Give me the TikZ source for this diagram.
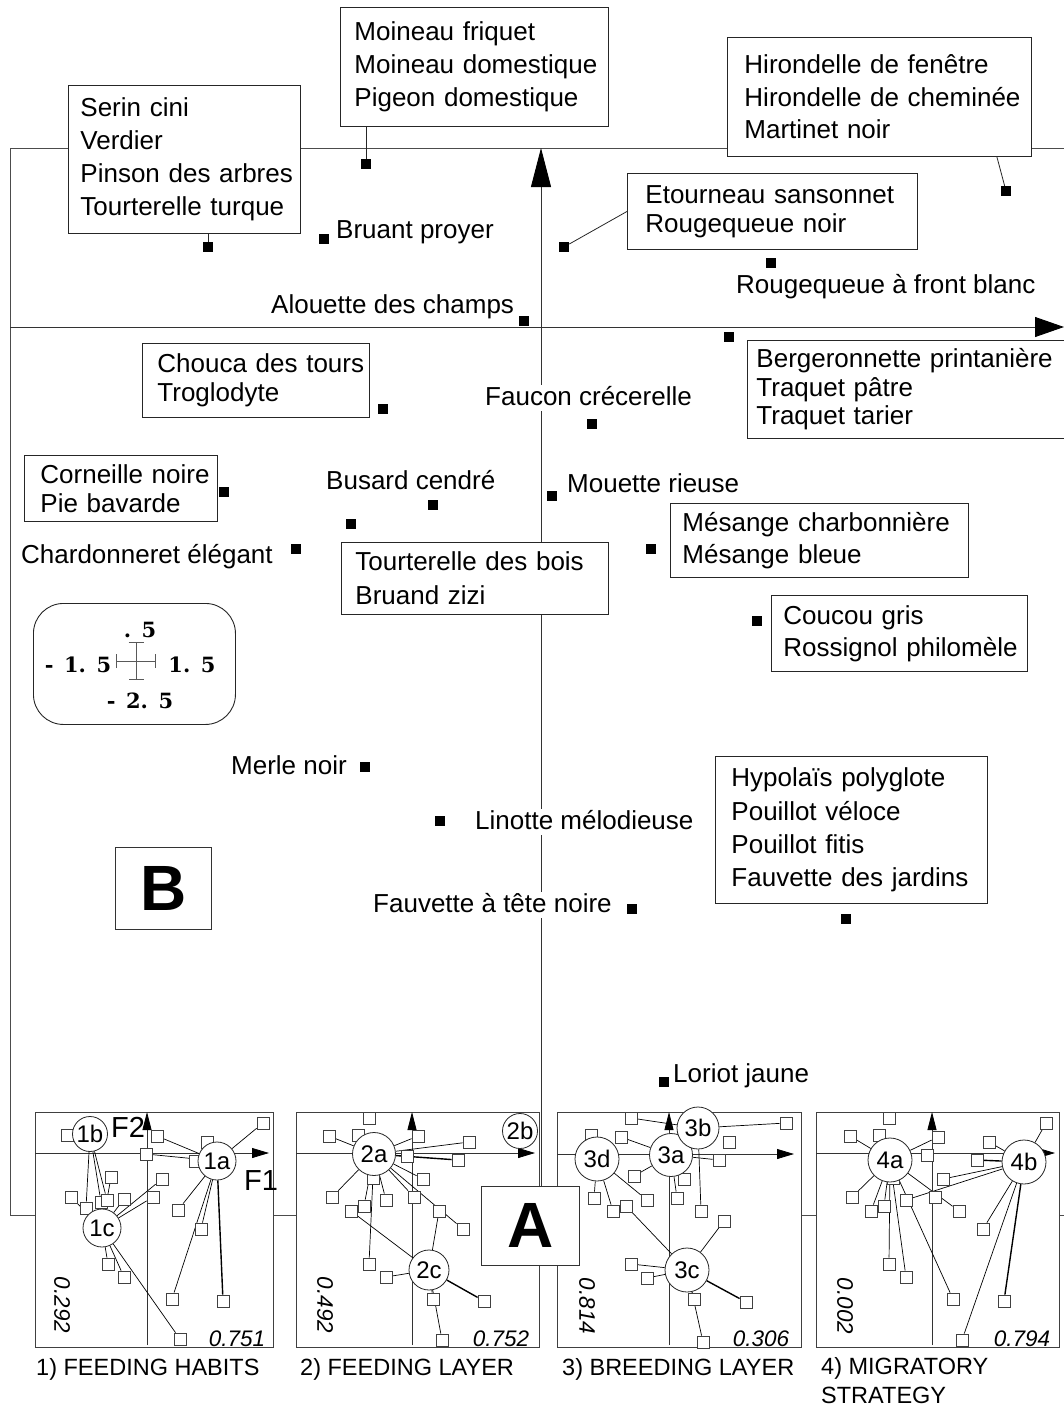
\documentclass[tikz,border=0pt]{standalone}
\usepackage{fontspec}
\setmainfont{Liberation Sans}
\newfontfamily\legfont{DejaVu Serif}
\usetikzlibrary{arrows.meta,calc}
\pgfdeclarelayer{links}
\pgfdeclarelayer{marks}
\pgfsetlayers{main,links,marks}
\begin{document}
\begin{tikzpicture}[x=1pt,y=-1pt,
  frameline/.style={draw=black!70, line width=0.9pt},
  axisline/.style={draw=black!80, line width=0.9pt},
  spbox/.style={draw=black!85, fill=white, line width=0.9pt, anchor=north west, align=left, inner ysep=0pt},
  lbl/.style={fill=white, inner sep=1pt, anchor=west, font=\fontsize{26pt}{30pt}\selectfont, text height=19pt, text depth=5pt},
  pt/.style={rectangle, fill=black, minimum size=10pt, inner sep=0pt},
  lead/.style={draw=black!85, line width=0.8pt},
  bigletter/.style={rectangle, draw=black!80, fill=white, line width=0.9pt, anchor=north west, inner sep=0pt, font=\fontsize{64pt}{64pt}\bfseries},
  legtxt/.style={inner sep=0pt, font=\legfont\fontsize{21pt}{22pt}\bfseries},
  panel/.style={rectangle, draw=black!75, fill=white, line width=1.1pt, anchor=north west, inner sep=0pt, minimum height=235pt},
  paxis/.style={draw=black!80, line width=0.8pt},
  ps/.style={rectangle, draw=black!75, fill=white, minimum size=12pt, inner sep=0pt, line width=0.8pt},
  pc/.style={circle, draw=black!85, fill=white, minimum size=#1, inner sep=0pt, line width=0.8pt, font=\fontsize{24pt}{24pt}\selectfont},
  link/.style={draw=black, line width=0.7pt},
  heavy/.style={draw=black, line width=1.4pt},
  share/.style={rotate=-90, inner sep=0pt, font=\fontsize{22.5pt}{24pt}\itshape},
  inertia/.style={inner sep=0pt, font=\fontsize{22.5pt}{24pt}\itshape},
  ttl/.style={inner sep=0pt, anchor=west, font=\fontsize{23.5pt}{29pt}\selectfont},
  axlbl/.style={inner sep=0pt, font=\fontsize{29pt}{29pt}\selectfont}
]
\useasboundingbox (0,0) rectangle (1064,1409);

% ---------- outer frame and main factorial axes ----------
\coordinate (fr-bl) at (10,1215);
\coordinate (fr-tl) at (10,148);
\coordinate (fr-tr) at (1064,148);
\coordinate (fr-br) at (1064,1215);
\draw[frameline] (fr-br) -- (fr-bl) -- (fr-tl) -- (fr-tr);
\coordinate (ax-h0) at (10,327);
\coordinate (ax-h1) at (1064,327);
\draw[axisline, -{Triangle[length=29pt,width=20pt,color=black]}] (ax-h0) -- (ax-h1);
\coordinate (ax-v0) at (541,1215);
\coordinate (ax-v1) at (541,148);
\draw[axisline, -{Triangle[length=39pt,width=20pt,color=black]}] (ax-v0) -- (ax-v1);

% ---------- species positions ----------
\foreach \n/\x/\y in {serin/208/247, moineau/366/164, hiron/1006/191, etour/564/247,
  rougeq/771/263, bruant/324/239, alouette/524/321, berger/729/337, chouca/383/409,
  faucon/592/424, corneille/224/492, busard/433/505, tourt/351/524, mouette/552/496,
  chardo/296/549, mesange/651/549, coucou/757/621, merle/365/767, linotte/440/821,
  hypo/846/919, fauv/632/909, loriot/664/1082}
  \node[pt] (q-\n) at (\x,\y) {};

% ---------- grouped species boxes ----------
\node[spbox, minimum width=232pt, minimum height=148pt, inner xsep=12pt, text width=208pt,
  font=\fontsize{26pt}{33pt}\selectfont] (serin) at (68,85)
  {\mbox{Serin cini}\\\mbox{Verdier}\\\mbox{Pinson des arbres}\\\mbox{Tourterelle turque}};
\node[spbox, minimum width=268pt, minimum height=119pt, inner xsep=14pt, text width=240pt,
  font=\fontsize{26pt}{33pt}\selectfont] (moineau) at (340,7)
  {\mbox{Moineau friquet}\\\mbox{Moineau domestique}\\\mbox{Pigeon domestique}};
\node[spbox, minimum width=304pt, minimum height=119pt, inner xsep=17pt, text width=270pt,
  font=\fontsize{26pt}{32.5pt}\selectfont] (hiron) at (727,37)
  {\mbox{Hirondelle de fenêtre}\\\mbox{Hirondelle de cheminée}\\\mbox{Martinet noir}};
\node[spbox, minimum width=290pt, minimum height=76pt, inner xsep=18pt, text width=254pt,
  font=\fontsize{26pt}{29pt}\selectfont] (etour) at (627,173)
  {\mbox{Etourneau sansonnet}\\\mbox{Rougequeue noir}};
\node[spbox, minimum width=317pt, minimum height=98pt, inner xsep=9pt, text width=299pt,
  font=\fontsize{26pt}{28.5pt}\selectfont] (berger) at (747,340)
  {\mbox{Bergeronnette printanière}\\\mbox{Traquet pâtre}\\\mbox{Traquet tarier}};
\node[spbox, minimum width=227pt, minimum height=74pt, inner xsep=15pt, text width=197pt,
  font=\fontsize{26pt}{29pt}\selectfont] (chouca) at (142,343)
  {\mbox{Chouca des tours}\\\mbox{Troglodyte}};
\node[spbox, minimum width=193pt, minimum height=66pt, inner xsep=16pt, text width=161pt,
  font=\fontsize{26pt}{29pt}\selectfont] (corneille) at (24,455)
  {\mbox{Corneille noire}\\\mbox{Pie bavarde}};
\node[spbox, minimum width=267pt, minimum height=72pt, inner xsep=14pt, text width=239pt,
  font=\fontsize{26pt}{34pt}\selectfont] (tourt) at (341,542)
  {\mbox{Tourterelle des bois}\\\mbox{Bruand zizi}};
\node[spbox, minimum width=298pt, minimum height=74pt, inner xsep=12pt, text width=274pt,
  font=\fontsize{26pt}{32pt}\selectfont] (mesange) at (670,503)
  {\mbox{Mésange charbonnière}\\\mbox{Mésange bleue}};
\node[spbox, minimum width=256pt, minimum height=76pt, inner xsep=12pt, text width=232pt,
  font=\fontsize{26pt}{32pt}\selectfont] (coucou) at (771,595)
  {\mbox{Coucou gris}\\\mbox{Rossignol philomèle}};
\node[spbox, minimum width=272pt, minimum height=147pt, inner xsep=16pt, text width=240pt,
  font=\fontsize{26pt}{33.3pt}\selectfont] (hypo) at (715,756)
  {\mbox{Hypolaïs polyglote}\\\mbox{Pouillot véloce}\\\mbox{Pouillot fitis}\\\mbox{Fauvette des jardins}};

% leaders from boxes to their positions
\draw[lead] (q-serin) -- (q-serin |- serin.south);
\draw[lead] (q-moineau) -- (q-moineau |- moineau.south);
\draw[lead] (q-hiron) -- ($(hiron.south east)+(-35,0)$);
\draw[lead] (q-etour) -- (etour.west);

% ---------- single species labels ----------
\node[lbl] (l-rougeq) at (735,286) {Rougequeue à front blanc};
\node[lbl] (l-bruant) at (335,231) {Bruant proyer};
\node[lbl] (l-alouette) at (270,306) {Alouette des champs};
\node[lbl] (l-faucon) at (484,398) {Faucon crécerelle};
\node[lbl] (l-busard) at (325,482) {Busard cendré};
\node[lbl] (l-mouette) at (566,485) {Mouette rieuse};
\node[lbl] (l-chardo) at (20,556) {Chardonneret élégant};
\node[lbl] (l-merle) at (230,767) {Merle noir};
\node[lbl] (l-linotte) at (474,822) {Linotte mélodieuse};
\node[lbl] (l-fauv) at (372,905) {Fauvette à tête noire};
\node[lbl] (l-loriot) at (672,1075) {Loriot jaune};

% ---------- scale legend ----------
\node[draw=black!85, line width=0.9pt, rounded corners=30pt, minimum width=202pt,
  minimum height=121pt, anchor=north west, inner sep=0pt] (legend) at (33,603) {};
\node[legtxt] (lg-top) at (140,630) {.\enspace5};
\node[legtxt] (lg-left) at (78,665) {-\enspace1.\enspace5};
\node[legtxt] (lg-right) at (192,665) {1.\enspace5};
\node[legtxt] (lg-bot) at (140,701) {-\enspace2.\enspace5};
\coordinate (lg-w) at (116,661);
\coordinate (lg-e) at (156,661);
\coordinate (lg-n) at (136,642);
\coordinate (lg-s) at (136,680);
\draw[black!65, line width=1pt, {Bar[width=14pt]}-{Bar[width=14pt]}] (lg-w) -- (lg-e);
\draw[black!65, line width=1pt, {Bar[width=15pt]}-{Bar[width=15pt]}] (lg-n) -- (lg-s);

% ---------- B and A tags ----------
\node[bigletter, minimum width=96pt, minimum height=82pt] (tagB) at (115,847) {B};

% ---------- small panels ----------
\node[panel, minimum width=238pt] (p1) at (35,1112) {};
\node[panel, minimum width=243pt] (p2) at (296,1112) {};
\node[panel, minimum width=244pt] (p3) at (557,1112) {};
\node[panel, minimum width=243pt] (p4) at (816,1112) {};

\foreach \k/\xl/\xa/\xt/\ya in {1/35/147/269/1153, 2/296/412/535/1153, 3/557/669/794/1154, 4/816/932/1055/1153} {
  \coordinate (p\k-h0) at (\xl,\ya);
  \coordinate (p\k-h1) at (\xt,\ya);
  \coordinate (p\k-v0) at (\xa,1345);
  \coordinate (p\k-v1) at (\xa,1112);
  \draw[paxis, -{Triangle[length=17pt,width=10pt,color=black]}] (p\k-h0) -- (p\k-h1);
  \draw[paxis, -{Triangle[length=18pt,width=9pt,color=black]}] (p\k-v0) -- (p\k-v1);
}

\node[bigletter, minimum width=98pt, minimum height=79pt] (tagA) at (481,1186) {A};

\node[axlbl] (f2) at (128,1127) {F2};
\node[axlbl] (f1) at (261,1181) {F1};

\node[share] (s1) at (62,1305) {0.292};
\node[share] (s2) at (325,1305) {0.492};
\node[share] (s3) at (587,1306) {0.814};
\node[share] (s4) at (845,1306) {0.002};
\node[inertia] (i1) at (237,1339) {0.751};
\node[inertia] (i2) at (501,1339) {0.752};
\node[inertia] (i3) at (761,1339) {0.306};
\node[inertia] (i4) at (1022,1339) {0.794};

\node[ttl] (t1) at (36,1369) {1) FEEDING HABITS};
\node[ttl] (t2) at (300,1369) {2) FEEDING LAYER};
\node[ttl] (t3) at (562,1369) {3) BREEDING LAYER};
\node[ttl, align=left] (t4) at (821,1381) {4) MIGRATORY\\STRATEGY};

% ---------- panel points and modalities ----------
\begin{pgfonlayer}{marks}
\foreach \n/\x/\y in {a1/67/1135, a2/263/1123, a3/157/1136, a4/207/1142, a5/146/1154,
  a6/195/1161, a7/111/1177, a8/162/1179, a9/71/1197, a10/153/1197, a11/124/1199,
  a12/101/1202, a20/86/1208, a21/107/1200, a13/178/1210, a14/201/1229, a15/108/1264,
  a16/124/1277, a17/172/1299, a18/223/1301, a19/180/1339}
  \node[ps] (\n) at (\x,\y) {};
\foreach \n/\x/\y in {b1/369/1118, b2/329/1136, b3/358/1135, b4/418/1136, b5/469/1142,
  b6/407/1156, b7/458/1160, b8/423/1179, b9/373/1178, b10/332/1197, b11/386/1200,
  b12/414/1197, b13/364/1206, b14/351/1211, b15/439/1211, b16/463/1229, b17/369/1264,
  b18/386/1277, b19/433/1299, b20/484/1301, b21/442/1340}
  \node[ps] (\n) at (\x,\y) {};
\foreach \n/\x/\y in {c1/631/1118, c2/786/1123, c3/591/1135, c4/621/1137, c5/729/1142,
  c6/719/1160, c7/634/1176, c8/684/1179, c9/594/1198, c10/647/1200, c11/677/1198,
  c12/701/1211, c13/613/1211, c14/626/1206, c15/724/1221, c16/631/1264, c17/647/1278,
  c18/694/1299, c19/746/1302, c20/703/1342}
  \node[ps] (\n) at (\x,\y) {};
\foreach \n/\x/\y in {d1/889/1118, d2/1046/1123, d3/850/1136, d4/879/1135, d5/938/1137,
  d6/989/1142, d7/927/1155, d8/977/1160, d9/943/1179, d10/893/1178, d11/852/1197,
  d12/906/1200, d13/935/1197, d14/884/1206, d15/871/1211, d16/959/1211, d17/983/1229,
  d18/889/1264, d19/906/1277, d20/953/1299, d21/1004/1301, d22/962/1340}
  \node[ps] (\n) at (\x,\y) {};

\node[pc=38] (m1a) at (217,1161) {1a};
\node[pc=35] (m1b) at (90,1134) {1b};
\node[pc=38] (m1c) at (102,1228) {1c};
\node[pc=43] (m2a) at (374,1154) {2a};
\node[pc=35] (m2b) at (520,1131) {2b};
\node[pc=40] (m2c) at (429,1270) {2c};
\node[pc=43] (m3a) at (671,1155) {3a};
\node[pc=42] (m3b) at (698,1128) {3b};
\node[pc=44] (m3c) at (687,1270) {3c};
\node[pc=44] (m3d) at (597,1159) {3d};
\node[pc=44] (m4a) at (890,1160) {4a};
\node[pc=44] (m4b) at (1024,1162) {4b};
\end{pgfonlayer}

\begin{pgfonlayer}{links}
\foreach \u/\v in {m1a/a2, m1a/a3, m1a/a5, m1a/a13, m1a/a14, m1a/a17,
  m1b/a20, m1b/a12, m1b/a21,
  m1c/a9, m1c/a7, m1c/a8, m1c/a10, m1c/a11, m1c/a15, m1c/a16, m1c/a19,
  m2a/b2, m2a/b4, m2a/b5, m2a/b6, m2a/b8, m2a/b12, m2a/b16, m2a/b10, m2a/b13, m2a/b11, m2a/b17,
  m2c/b14, m2c/b15, m2c/b18, m2c/b19, m2c/b21,
  m3b/c1, m3b/c2, m3b/c12, m3a/c4, m3a/c7, m3a/c11, m3a/c6,
  m3d/c9, m3d/c13, m3d/c10,
  m3c/c14, m3c/c15, m3c/c16, m3c/c17, m3c/c18, m3c/c20,
  m4a/d3, m4a/d5, m4a/d11, m4a/d15, m4a/d14, m4a/d18, m4a/d19, m4a/d20, m4a/d16,
  m4b/d2, m4b/d6, m4b/d9, m4b/d12, m4b/d17, m4b/d22}
  \draw[link] (\u) -- (\v);
\foreach \u/\v in {m1a/a18, m2a/b7, m2c/b20, m3c/c19, m4b/d8, m4b/d21}
  \draw[heavy] (\u) -- (\v);
\end{pgfonlayer}

\end{tikzpicture}
\end{document}
